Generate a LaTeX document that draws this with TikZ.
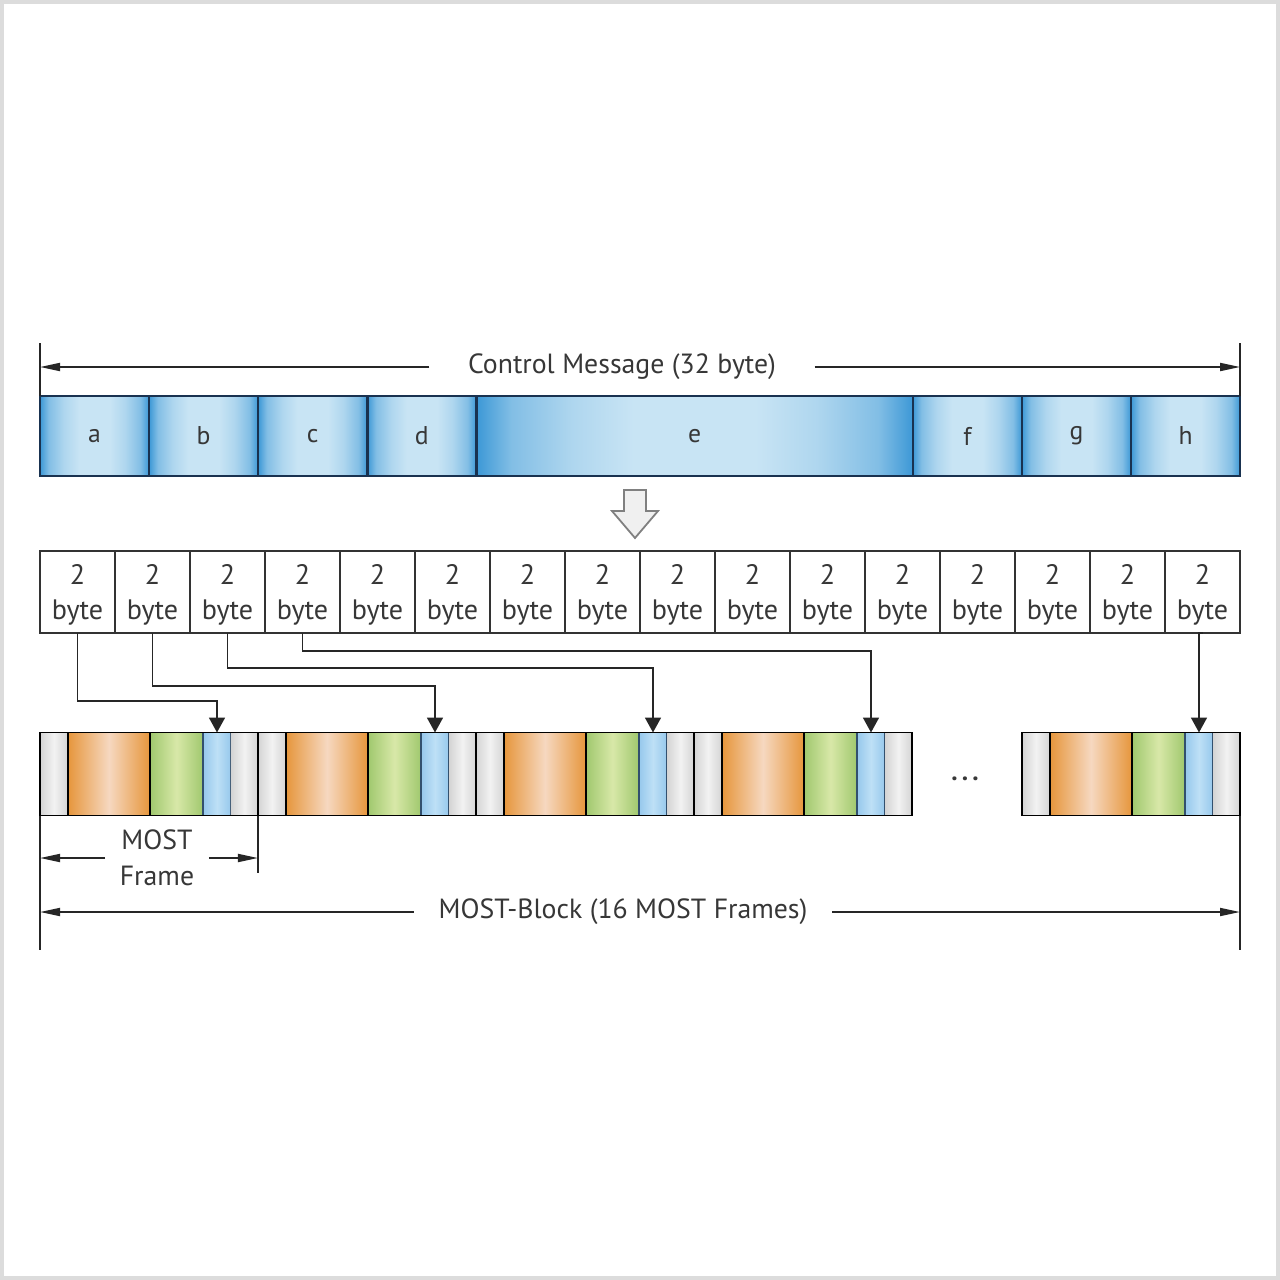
\documentclass[tikz,border=0pt]{standalone}
\usepackage{fontspec}
\setmainfont{PT Sans}
\usepackage{xcolor}
\usetikzlibrary{arrows.meta, positioning}

\definecolor{txtgray}{RGB}{55,55,55}
\definecolor{msgblue}{RGB}{60,152,214}
\definecolor{msglight}{RGB}{200,228,244}
\colorlet{msgmid}{msgblue!50!msglight}
\colorlet{msgsoft}{msgblue!18!msglight}
\definecolor{segnavy}{RGB}{25,50,80}
\definecolor{orgedge}{RGB}{230,150,60}
\definecolor{orgmid}{RGB}{246,216,192}
\definecolor{grnedge}{RGB}{160,200,110}
\definecolor{grnmid}{RGB}{216,232,168}
\definecolor{bluedge}{RGB}{150,200,236}
\definecolor{blumid}{RGB}{190,224,246}
\definecolor{blueline}{RGB}{50,80,110}
\definecolor{grayedge}{RGB}{212,212,212}
\definecolor{graymid}{RGB}{242,242,242}
\definecolor{bordergray}{RGB}{220,220,220}

\pgfdeclarehorizontalshading{msgshade}{100bp}{color(0bp)=(msgblue); color(25bp)=(msgblue);
  color(29bp)=(msgmid); color(36bp)=(msgsoft); color(43bp)=(msglight);
  color(57bp)=(msglight); color(64bp)=(msgsoft); color(71bp)=(msgmid);
  color(75bp)=(msgblue); color(100bp)=(msgblue)}

\begin{document}
\begin{tikzpicture}[
  x=0.1mm, y=-0.1mm,
  font=\fontsize{7.3}{9}\selectfont, text=txtgray,
  seg/.style={draw=segnavy, line width=0.25mm, outer sep=0pt, inner sep=0pt,
              shading=msgshade, minimum height=8mm},
  cell/.style={draw=black!80, line width=0.15mm, outer sep=0pt, inner sep=0pt,
               minimum width=7.5mm, minimum height=8.2mm, align=center, text depth=0pt,
               font=\fontsize{8}{9.7}\selectfont},
  part/.style={outer sep=0pt, inner sep=0pt, minimum height=8.3mm, line width=0.18mm},
  gpart/.style={part, left color=grayedge, right color=grayedge, middle color=graymid},
  opart/.style={part, draw=black, minimum width=8.2mm,
                left color=orgedge, right color=orgedge, middle color=orgmid},
  npart/.style={part, draw=black, minimum width=5.3mm,
                left color=grnedge, right color=grnedge, middle color=grnmid},
  bpart/.style={part, draw=blueline, minimum width=2.8mm,
                left color=bluedge, right color=bluedge, middle color=blumid},
  frameline/.style={draw=black, line width=0.18mm},
  link/.style={draw=black!85, line width=0.18mm, -{Triangle[length=1.5mm, width=1.6mm]}},
  dimarrow/.style={draw=black!85, line width=0.18mm, -{Triangle[length=2mm, width=0.8mm]}},
  tick/.style={draw=black!85, line width=0.18mm},
  dimlabel/.style={inner ysep=0pt, font=\fontsize{7.9}{10.2}\selectfont}
]
\useasboundingbox (0,0) rectangle (1280,1280);
\draw[bordergray, line width=0.4mm] (2,2) rectangle (1278,1278);

% --- Control message ---
\node[seg, minimum width=10.91mm, anchor=west] (sa) at (40,436) {a};
\foreach \p/\n/\w in {a/b/10.91, b/c/10.91, c/d/10.91, d/e/43.64, e/f/10.91, f/g/10.91, g/h/10.91}
  \node[seg, minimum width=\w mm, right=0pt of s\p] (s\n) {\n};

\coordinate (cmL) at (40,343);
\coordinate (cmR) at (1240,343);
\draw[tick] (cmL) -- (sa.north west);
\draw[tick] (cmR) -- (sh.north east);
\node[dimlabel, inner xsep=3.8mm] (cm) at (622,367) {Control Message (32 byte)};
\draw[dimarrow] (cm.west) -- (cm -| sa.west);
\draw[dimarrow] (cm.east) -- (cm -| sh.east);

% --- hollow arrow ---
\draw[gray, fill=gray!12, line width=0.18mm]
  (624,490) -- (646,490) -- (646,511) -- (658,511) -- (635,538) -- (612,511) -- (624,511) -- cycle;

% --- 2 byte cells ---
\foreach \i in {1,...,16}
  \node[cell] (c\i) at ({40+(\i-0.5)*75}, 592) {2\\byte};

% --- MOST frames ---
\foreach \f/\x in {1/40, 2/258, 3/476, 4/694, 5/1022} {
  \node[gpart, minimum width=2.8mm, anchor=west] (l\f) at (\x,774) {};
  \node[opart, right=0pt of l\f] (o\f) {};
  \node[npart, right=0pt of o\f] (n\f) {};
  \node[bpart, right=0pt of n\f] (b\f) {};
  \node[gpart, minimum width=2.7mm, right=0pt of b\f] (r\f) {};
  \draw[frameline] (l\f.north west) rectangle (r\f.south east);
}
\node (dots) at (965,779) {\textbf{.\,.\,.}};

% --- connectors ---
\foreach \i/\d in {1/68, 2/53, 3/35, 4/18}
  \draw[link] (c\i.south) -- ++(0,\d) -| (b\i.north);
\draw[link] (c16.south) -- (c16.south -| b5.north) -- (b5.north);

% --- MOST frame / block dimensions ---
\draw[tick] (l1.south west) -- ++(0,134);
\draw[tick] (r1.south east) -- ++(0,57);
\draw[tick] (r5.south east) -- ++(0,134);
\node[dimlabel, inner xsep=1.4mm, align=center] (mf) at (157,858) {MOST\\Frame};
\draw[dimarrow] (mf.west) -- (mf -| l1.west);
\draw[dimarrow] (mf.east) -- (mf -| r1.east);
\node[dimlabel, inner xsep=2.4mm] (mb) at (623,912) {MOST-Block (16 MOST Frames)};
\draw[dimarrow] (mb.west) -- (mb -| l1.west);
\draw[dimarrow] (mb.east) -- (mb -| r5.east);
\end{tikzpicture}
\end{document}
